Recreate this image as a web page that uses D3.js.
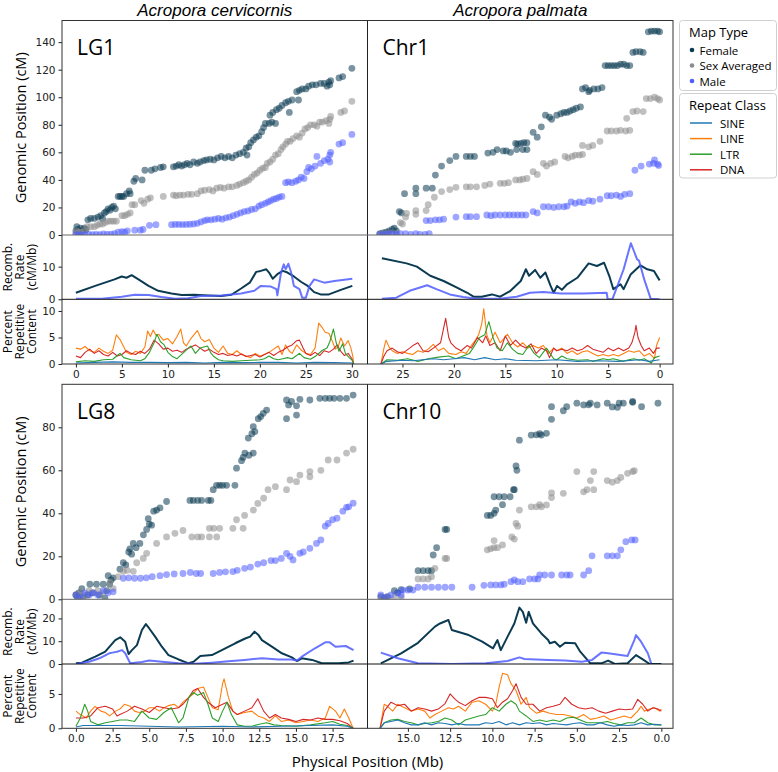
<!DOCTYPE html>
<html><head><meta charset="utf-8">
<script src="https://cdn.jsdelivr.net/npm/d3@7"></script>
<style>body{margin:0;background:#fff}</style>
</head><body><svg id="c" width="778" height="772"></svg>
<script>
// ---------------- DATA ----------------
const columnTitles = ["Acropora cervicornis", "Acropora palmata"];
const panelLabels = ["LG1", "Chr1", "LG8", "Chr10"];
const mapTypes = ["Female", "Sex Averaged", "Male"];
const repeatClasses = ["SINE", "LINE", "LTR", "DNA"];
const xLabel = "Physical Position (Mb)";

const ticksLG1 = [0, 5, 10, 15, 20, 25, 30];
const ticksChr1 = [25, 20, 15, 10, 5, 0];
const ticksLG8 = [0, 2.5, 5, 7.5, 10, 12.5, 15, 17.5];
const ticksChr10 = [15, 12.5, 10, 7.5, 5, 2.5, 0];
const ticksScatterTop = [0, 20, 40, 60, 80, 100, 120, 140];
const ticksScatterBot = [0, 20, 40, 60, 80];
const ticksRecTop = [0, 10];
const ticksRecBot = [0, 10, 20];
const ticksRepTop = [0, 5, 10];
const ticksRepBot = [0, 5];

// Genetic map positions [Mb, cM]
const lg1Female = [[0.0,3],[0.1,6],[0.2,4],[0.3,2],[0.5,5],[0.7,3],[0.9,5],[1.1,4],[1.3,11],[1.6,12],[2.0,12],[2.4,13],[2.7,14],[2.9,12],[3.1,16],[3.3,17],[3.5,19],[3.7,18],[3.9,20],[4.1,21],[4.3,19],[4.6,28],[4.8,28],[5.0,28],[5.2,28],[5.5,30],[5.8,32],[5.9,30],[6.3,39],[6.5,41],[7.2,40],[7.5,47],[8.2,47],[8.6,48],[9.2,49],[9.5,49.5],[10.6,49.5],[10.9,50],[11.2,51],[11.5,50],[11.8,51],[12.1,52],[12.4,51],[12.8,53],[13.2,52],[13.5,53],[13.9,54],[14.2,54.5],[14.6,55],[15.0,54.5],[15.4,56],[15.8,57],[16.2,56],[16.6,57],[17.0,56],[17.4,58],[17.8,59],[18.2,60],[18.5,63],[18.8,64],[18.6,58],[19.0,67],[19.3,69],[19.6,71],[19.9,72],[20.2,75],[20.4,78],[20.6,81],[21.0,81],[21.3,82],[21.7,81],[21.1,87],[21.4,89],[21.8,91],[22.1,92],[22.4,94],[22.8,96],[23.1,97],[23.5,98],[23.2,89],[24.0,104],[24.3,105],[24.6,106],[24.2,98],[25.0,106],[25.3,108],[25.7,109],[26.1,109],[26.6,110],[27.0,110],[27.3,108],[27.5,111],[27.6,109],[27.7,112],[28.6,114],[29.0,115],[30.0,121]];
const lg1Sex = [[0.0,1],[0.1,3],[0.3,2],[0.6,2],[0.9,3],[1.2,6],[1.6,6],[2.0,6],[2.3,7],[2.6,8],[2.9,8],[3.2,9],[3.5,10],[3.8,10],[4.1,10],[4.4,10],[5.0,14],[5.3,14],[5.6,15],[5.9,16],[6.1,22],[6.4,22],[7.1,25],[7.4,23],[7.8,26],[8.1,27],[9.5,28],[10.6,29],[10.9,28.5],[11.3,29],[11.7,29],[12.2,29.5],[12.6,29.5],[13.2,30],[13.6,32],[14.0,32.5],[14.5,33],[14.9,32],[15.3,34],[15.7,34.5],[16.1,34],[16.6,35],[17.0,35],[17.5,36],[17.8,37],[18.2,38],[18.5,39],[18.8,40],[19.1,42],[19.4,44],[19.7,45],[20.0,47],[20.3,48.5],[20.6,49],[20.8,52],[21.1,53],[21.4,55],[21.7,58],[22.0,59],[22.3,62],[22.5,64],[22.8,66],[23.0,68],[23.3,68],[23.6,70],[24.0,72],[24.3,71],[24.6,74],[24.9,77],[25.2,78],[25.5,80],[25.9,80],[26.2,79],[26.5,82],[26.8,82],[27.2,83],[27.6,84],[27.7,86],[27.5,81],[28.8,89],[29.2,90],[30.0,97]];
const lg1Male = [[0.0,0.5],[0.3,0],[0.6,0.3],[1.0,0],[1.4,0.5],[1.8,0.2],[2.2,0.5],[2.6,0.3],[3.0,0.8],[3.4,0.5],[3.8,0.6],[4.2,1],[4.6,2],[5.0,2.5],[5.3,2],[5.6,3],[6.4,3.5],[7.0,3.5],[7.3,4],[8.0,7],[8.7,7.5],[10.4,7.5],[10.8,7.7],[11.2,7.7],[11.6,7.6],[12.0,7.7],[12.4,7.8],[12.8,8],[13.2,8.5],[13.6,9.5],[14.0,10.5],[14.3,11],[14.7,11],[15.1,11.5],[15.5,12],[15.9,11.5],[16.3,12.5],[16.7,13],[17.1,14],[17.5,15],[17.9,16],[18.3,17],[18.7,17.5],[19.1,18.5],[19.5,19],[19.9,21],[20.2,22],[20.6,23],[20.9,24],[21.2,25],[21.5,26],[21.8,26.5],[22.1,27.5],[22.4,28],[22.8,38],[23.1,38.5],[23.5,38],[23.9,39],[24.2,40],[24.5,42],[24.8,41],[25.1,46],[25.3,49],[25.6,48],[26.0,50],[26.2,57],[26.6,52],[27.0,54],[27.4,55],[27.6,58],[27.7,60],[27.6,53],[28.6,66],[29.0,67],[30.0,73]];

const chr1Female = [[27.2,1],[26.9,1.5],[26.6,2],[26.3,3],[26.0,4],[25.8,5],[25.6,3],[25.3,17],[25.1,16],[24.8,30],[23.7,30],[23.7,34],[22.7,34],[22.1,34],[21.8,43.5],[21.2,50],[20.4,54],[19.8,57],[18.8,57],[18.4,57],[18.0,57],[16.7,59.5],[16.2,60],[15.8,62],[15.2,61],[14.9,61],[14.5,60],[14.0,66.5],[13.8,66],[13.5,66.5],[13.2,67],[12.9,67],[13.9,62],[13.3,62],[12.9,62],[12.3,74.5],[11.9,71],[11.5,78.5],[11.1,87],[10.7,85.5],[10.5,84],[10.0,87],[9.6,88],[9.3,89],[9.0,89],[8.7,90],[8.4,91],[8.1,92],[7.7,93],[7.5,106],[7.2,107],[6.9,104],[6.8,105],[6.4,106],[6.0,106],[5.6,107],[5.3,123],[5.0,123],[4.7,123],[4.4,123],[4.1,123],[3.8,124],[3.5,124],[3.2,123],[2.9,123],[2.6,132.5],[2.3,133],[1.9,133],[1.6,132.5],[1.1,147.5],[0.8,148],[0.5,148],[0.2,148],[0.0,147.5]];
const chr1Sex = [[27.2,0.5],[26.8,1],[26.4,1],[26.0,1.5],[25.6,1],[25.2,9],[25.0,8],[24.6,15.7],[24.7,13],[23.7,17.7],[23.7,15],[22.7,17.7],[22.5,22],[21.9,27.4],[21.2,31.5],[20.4,33],[19.8,34.6],[18.8,35],[18.4,35],[17.8,35],[17.0,36],[16.5,37],[15.5,37.5],[15.1,37.5],[14.7,38],[14.0,40],[13.6,40],[13.3,40.5],[12.9,41],[12.3,46],[11.9,44],[11.3,52],[11.0,50],[10.6,52],[10.2,53],[9.2,57],[8.9,56],[8.5,57],[8.2,58],[7.8,58],[7.5,58.5],[7.5,65],[6.9,64],[6.5,65],[5.8,68],[5.1,75.5],[4.7,75.5],[4.2,75.5],[3.8,76],[3.3,75.5],[2.9,76],[3.2,84.7],[2.6,89.6],[2.2,90],[1.6,89.6],[1.3,99],[0.9,99],[0.5,100],[0.2,99],[0.0,98]];
const chr1Male = [[27.2,0.5],[26.8,0.5],[26.4,1],[26.0,1],[25.6,0.5],[25.2,1],[24.7,1],[24.2,0.5],[23.7,1],[23.3,0.5],[22.8,0.5],[22.4,1],[22.7,10.5],[22.3,10.5],[21.8,11],[21.4,11],[21.0,11.5],[19.8,13],[18.8,13.3],[18.4,13.3],[17.8,13.3],[16.8,14.5],[16.4,14],[16.0,14.5],[15.5,14.5],[15.0,14.5],[14.6,14.5],[14.2,14.5],[13.8,14.5],[13.4,14.5],[13.0,14.5],[12.3,17],[11.9,16],[11.3,20.5],[10.8,20.5],[10.3,20],[9.8,20.5],[9.3,20.5],[9.0,21],[8.6,24],[8.2,23],[7.8,24],[7.4,23.5],[6.9,25],[6.5,24.5],[5.8,26],[5.1,28.5],[4.7,28.5],[4.2,29],[3.8,28],[3.4,29.5],[2.9,30],[2.4,47],[1.8,50],[1.0,51.5],[0.6,52],[0.5,54.5],[0.2,51.5],[0.1,50.5]];

const lg8Female = [[0.0,2],[0.1,1],[0.2,3],[0.4,5],[0.5,1],[0.8,2],[0.95,7],[1.1,3],[1.4,7],[1.6,2],[1.86,7],[1.98,0.5],[2.1,4],[2.2,11],[2.3,7],[2.4,9],[2.54,10],[3.0,14],[3.23,17],[3.4,16],[3.6,22],[3.68,23.5],[3.8,21],[3.91,26],[4.1,24],[4.36,26],[4.6,30],[4.82,32.5],[4.93,37.5],[5.0,35],[5.16,34.5],[5.3,41],[5.5,41.5],[5.73,42.5],[6.18,45.5],[7.77,46],[8.0,46],[8.3,46],[8.57,46],[9.02,46],[9.36,51],[9.2,46],[9.59,53],[9.8,53],[10.0,53],[10.27,53],[10.84,53],[10.95,61],[11.29,64.5],[11.4,66],[11.52,68],[11.8,67],[12.09,68],[11.75,75],[12.0,77],[12.2,78],[12.09,80.3],[12.43,84],[12.6,85],[12.77,86.5],[13.0,88],[14.36,84],[14.36,92.7],[14.5,90.4],[14.7,92],[15.04,85.7],[15.04,90],[15.27,93],[15.95,92.7],[16.63,93.5],[17.0,93.5],[17.3,93.5],[17.6,93.5],[18.0,93.5],[18.45,93.5],[18.9,95]];
const lg8Sex = [[0.0,2],[0.3,3],[0.6,2],[0.9,4],[1.2,3],[1.5,4],[1.86,3],[2.32,8],[2.54,5],[2.88,10.5],[3.23,13],[3.5,13.5],[3.91,13],[4.14,17],[4.59,19],[4.82,21.4],[5.5,26],[6.18,29],[6.75,30.7],[7.3,32],[7.9,29],[8.3,29],[8.57,29],[9.1,29],[9.6,29],[9.1,33],[9.4,33],[9.8,33],[10.7,33],[11.4,33],[10.95,37],[11.5,39],[12.1,41.5],[12.4,44.6],[12.8,47],[13.1,51],[13.6,52.4],[14.36,51],[14.6,55.5],[15.04,54.7],[15.27,57.8],[15.95,57],[15.95,59.4],[16.7,60],[17.2,64.8],[17.8,64.8],[18.45,68],[18.9,69.8]];
const lg8Male = [[0.0,2],[0.3,1],[0.6,3],[0.9,2],[1.2,3],[1.5,2],[1.86,4],[2.2,3],[2.54,3.5],[3.23,9.8],[3.6,10],[4.0,9.8],[4.4,9.8],[4.8,10],[5.2,10.5],[5.73,11],[6.18,11.5],[6.7,11.8],[7.3,12],[7.8,12.5],[8.2,12],[8.5,12],[9.36,12],[9.8,12.5],[10.2,12.8],[10.7,12.9],[11.0,13.5],[11.5,14.4],[11.9,15],[12.4,16.4],[12.8,17],[13.3,18],[13.6,18],[14.0,19],[14.36,21.4],[14.6,20],[14.8,18.3],[15.27,21.4],[15.5,22],[15.95,23.7],[16.4,26],[16.7,27.6],[17.0,34],[17.2,35.3],[17.5,37],[17.8,37.7],[18.2,41],[18.45,42.8],[18.6,43],[18.9,44.7]];

const chr10Female = [[16.6,1.2],[16.4,0.5],[16.2,1.2],[15.8,4],[15.6,3],[15.4,4.5],[14.9,4.8],[14.4,13.3],[14.1,13.3],[13.8,13.3],[13.6,13.3],[13.5,20.6],[13.3,24],[12.8,32.5],[12.7,32.5],[10.3,39],[10.1,39],[9.9,40],[9.8,41.5],[9.4,44],[9.9,47.7],[9.6,47.7],[9.3,47.7],[8.95,47.7],[8.75,51],[8.7,51],[8.6,62],[8.55,60],[8.4,74],[7.7,76.4],[7.4,76.5],[7.2,77],[7.1,76.4],[6.8,77.2],[6.5,83.7],[6.5,89.6],[5.8,87.7],[5.6,89.6],[5.0,91.2],[4.6,90.4],[4.3,90.5],[4.2,91.2],[3.8,90.4],[3.2,91.2],[2.9,89.5],[2.6,89.3],[2.5,91.2],[2.25,91.2],[1.7,91.6],[1.7,92],[1.17,89.6],[0.2,91.2]];
const chr10Sex = [[16.6,1],[16.2,1],[15.8,1],[15.4,1],[14.4,9.5],[14.1,9.5],[13.8,9.5],[13.6,10.5],[13.4,14.4],[12.8,19],[12.7,19],[10.3,23],[10.1,23.5],[9.9,24],[9.7,24],[9.9,27.3],[9.4,25.3],[8.85,29],[8.7,28],[8.6,35.3],[8.5,34],[8.4,41.5],[7.7,43],[7.4,43],[7.2,44],[7.1,43],[6.8,43.9],[6.5,47.3],[6.5,49.5],[5.8,49.3],[5.0,59.4],[4.6,50],[4.4,51],[4.2,55.2],[4.0,59.4],[4.0,51],[3.2,55.2],[2.9,54.5],[2.6,55.2],[2.4,56.7],[2.0,58.6],[1.7,59.4],[1.6,59.8]];
const chr10Male = [[16.6,2],[16.3,1],[16.0,2],[15.6,3],[15.4,2],[15.3,4.3],[15.0,4.3],[14.7,4.3],[14.4,5.6],[14.0,5.6],[13.6,5.6],[13.2,5.6],[12.8,5.6],[12.4,5.6],[11.2,5.6],[10.5,6.5],[10.1,6.7],[9.8,6.7],[9.5,6.7],[9.3,7],[8.9,8.2],[8.7,9],[8.5,8.2],[8.2,8.2],[7.8,9.5],[7.5,9.5],[7.3,9.5],[7.2,11.3],[6.9,11.3],[6.5,11.3],[5.9,11.3],[5.6,11.3],[5.4,11.3],[4.6,11.3],[4.3,13.3],[4.1,20.2],[3.2,20.2],[2.9,20.2],[2.6,20.2],[2.4,23],[2.1,26.8],[1.75,27.6],[1.55,27.6]];

// Recombination rate [Mb, cM/Mb]
const lg1RecFemale = [[0,2.0],[2.1,4.1],[4.2,6.1],[4.98,7.0],[5.5,6.6],[6.06,7.4],[6.8,6.1],[7.9,4.1],[8.95,2.6],[10.4,1.8],[11.5,1.3],[12.9,1.4],[14.4,1.2],[15.8,1.0],[16.9,1.4],[17.96,3.3],[18.9,5.1],[19.6,8.4],[20.1,8.7],[20.7,9.2],[21.0,8.2],[21.4,6.3],[21.9,7.7],[22.5,8.7],[23.0,8.2],[23.7,7.0],[24.5,5.3],[25.2,4.1],[25.9,2.2],[26.6,1.5],[27.5,1.5],[28.8,2.9],[30.05,4.1]];
const lg1RecMale = [[0,0.2],[2.8,0.2],[5,0.8],[6.4,1.4],[7.9,1.3],[9.3,0.7],[10.8,0.2],[12.2,0.3],[13.6,1.0],[15.8,1.2],[17.96,1.8],[19.4,2.6],[20.1,4.1],[21.2,3.9],[21.8,3.1],[21.9,1.2],[22.3,8.2],[22.6,10.7],[22.8,9.2],[23.1,10.9],[23.4,8.2],[23.7,4.1],[24.3,3.1],[24.6,0.5],[25.0,0.5],[25.4,4.1],[25.9,6.1],[27.0,5.1],[28.1,5.6],[30.05,6.3]];
const chr1RecFemale = [[27.0,12.6],[24.6,11.0],[23.6,10.0],[22.3,7.2],[21.0,5.6],[19.7,3.6],[18.7,2.0],[18.1,0.8],[17.3,0.8],[16.3,1.5],[15.5,0.8],[14.5,2.6],[13.5,5.6],[13.0,9.2],[12.7,7.2],[12.1,9.0],[11.6,6.6],[11.1,8.2],[10.6,4.1],[10.3,2.0],[9.97,4.1],[9.5,2.9],[9.0,4.6],[8.0,6.6],[6.9,11.0],[6.1,10.2],[5.4,11.2],[4.9,7.2],[4.5,3.1],[3.8,4.6],[3.5,3.1],[2.8,7.7],[1.86,10.4],[1.2,9.2],[0.55,8.7],[0.0,5.8]];
const chr1RecMale = [[27.0,0.2],[25.6,0.5],[24.3,2.6],[22.6,4.3],[21.7,3.1],[20.4,1.5],[19.1,0.7],[17.8,0.2],[15.5,0.2],[13.9,0.8],[12.6,2.0],[11.3,2.2],[9.6,1.8],[7.4,1.8],[5.15,2.0],[5.05,0],[4.6,0],[4.1,4.1],[3.5,9.2],[2.8,17.2],[2.5,14.8],[2.2,12.3],[2.0,11.8],[1.5,6.1],[0.87,0.2],[0.0,0]];
const lg8RecFemale = [[0,0.3],[0.41,0.6],[1.32,3.2],[2.0,5.4],[2.68,10.5],[3.02,11.7],[3.36,9.8],[3.59,4.4],[3.82,6.1],[4.16,8.3],[4.5,14.9],[4.77,17.5],[5.0,15.6],[5.4,12.0],[5.86,7.6],[6.31,3.9],[7.0,2.0],[7.68,0.3],[8.02,1.0],[8.48,3.5],[9.27,3.9],[9.95,6.1],[10.86,9.1],[11.54,11.2],[11.88,12.0],[12.18,14.2],[12.45,12.7],[12.68,10.5],[13.36,7.6],[14.04,4.7],[14.72,2.9],[15.07,1.3],[15.4,2.5],[16.1,1.8],[16.77,0.3],[17.9,0.3],[18.6,0.7],[18.93,1.5]];
const lg8RecMale = [[0,0],[0.9,1.0],[1.6,2.5],[2.27,4.7],[2.5,5.0],[2.8,5.4],[3.14,6.1],[3.36,4.7],[3.7,0.3],[4.5,0.9],[5.0,1.5],[5.86,1.0],[7.0,0.3],[8.1,0.1],[9.27,0.6],[10.4,1.2],[11.5,1.8],[12.7,2.5],[13.8,2.0],[14.7,2.0],[15.07,1.5],[15.4,3.2],[16.3,6.9],[17.0,9.5],[17.3,9.5],[17.7,7.6],[18.4,7.9],[18.93,6.1]];
const chr10RecFemale = [[16.6,0.3],[15.4,4.7],[14.4,9.3],[13.4,16.4],[13.1,17.8],[12.6,19.3],[12.4,14.9],[11.4,12.7],[10.6,9.8],[9.96,6.9],[9.7,10.5],[9.5,6.1],[9.1,12.0],[8.7,17.8],[8.4,24.8],[8.2,22.9],[8.0,18.1],[7.85,22.9],[7.6,17.8],[7.1,13.4],[6.7,10.5],[6.6,9.1],[6.3,9.8],[6.0,7.6],[5.7,9.3],[5.1,9.1],[4.8,5.4],[4.2,0.3],[3.55,0.3],[3.15,1.5],[2.75,0],[2.0,0.3],[1.5,3.9],[1.1,2.0],[0.69,0],[0,0]];
const chr10RecMale = [[16.6,5.0],[15.6,2.5],[14.4,0.3],[12.4,0],[10.4,0.3],[9.1,1.3],[8.4,2.9],[8.1,2.2],[6.7,1.8],[5.7,1.5],[4.7,1.0],[4.1,1.8],[3.55,5.0],[3.15,4.7],[2.0,3.5],[1.6,10.5],[1.5,12.7],[1.2,9.8],[0.8,4.7],[0.6,0.3]];

// Percent repetitive content [Mb, %]
const lg1Sine = [[0,0.2],[2,0.3],[4,0.4],[6,0.3],[8,0.3],[10,0.25],[12,0.3],[14,0.2],[16,0.3],[18,0.25],[20,0.3],[22,0.3],[24,0.2],[26,0.3],[28,0.25],[30,0.2],[30.2,0]];
const lg1Line = [[0,3.0],[0.5,2.8],[1,3.3],[1.5,2.5],[2,2.2],[2.5,3.0],[3,2.4],[3.5,2.0],[4,2.6],[4.4,5.5],[4.8,4.6],[5.1,3.6],[5.5,2.2],[6,1.8],[6.5,2.4],[7,2.0],[7.5,3.2],[7.8,6.2],[8.1,5.2],[8.4,6.4],[8.7,5.4],[9,5.6],[9.5,4.5],[10,4.8],[10.5,3.8],[11,5.2],[11.4,6.6],[11.7,4.0],[12,3.4],[12.5,4.8],[13.2,6.3],[13.6,4.8],[14,4.2],[14.5,4.6],[15,3.0],[15.5,2.2],[16,3.4],[16.5,2.0],[17,1.8],[17.5,2.5],[18,1.8],[18.5,1.5],[19,1.2],[19.5,2.0],[20,1.5],[20.5,1.8],[21,2.2],[21.5,2.8],[22,3.4],[22.4,1.8],[22.8,3.6],[23.2,2.4],[23.5,2.0],[24,3.6],[24.5,2.6],[25,2.0],[25.5,1.8],[26,3.0],[26.4,7.7],[26.8,6.8],[27.1,6.0],[27.5,5.8],[27.9,4.2],[28.2,2.8],[28.5,3.2],[28.8,4.9],[29.2,3.4],[29.6,4.4],[29.9,3.0],[30.1,1.5],[30.2,0]];
const lg1Ltr = [[0,0.4],[1,0.6],[2,0.5],[3,0.8],[4,0.9],[4.5,1.6],[4.8,2.0],[5.2,1.2],[6,0.8],[7,0.6],[7.5,1.0],[8,2.2],[8.5,4.0],[8.8,5.6],[9.2,4.2],[9.6,3.6],[10,2.2],[10.5,1.4],[11,1.0],[11.5,1.8],[12,2.6],[12.5,3.4],[13,2.0],[13.5,3.0],[14.3,3.4],[14.7,2.0],[15,1.4],[15.5,0.8],[16,0.6],[17,0.5],[18,0.6],[19,0.7],[20,0.8],[20.5,1.0],[21,1.5],[21.5,1.0],[22,0.8],[22.5,1.0],[23,1.2],[23.5,1.0],[24,1.6],[24.3,2.0],[24.8,1.2],[25.5,0.9],[26,1.4],[26.8,2.6],[27.3,3.0],[27.6,4.2],[28,6.6],[28.3,4.0],[28.6,2.4],[29,3.8],[29.3,2.0],[29.7,1.2],[30,0.8],[30.2,0]];
const lg1Dna = [[0,1.5],[0.5,1.2],[1,2.2],[1.5,2.8],[2,2.0],[2.5,2.5],[3,1.8],[3.5,1.5],[4,2.2],[4.5,1.5],[5,1.8],[5.5,2.5],[6,2.0],[6.5,1.8],[7,2.4],[7.5,2.0],[8,2.8],[8.5,4.5],[9,3.8],[9.5,2.8],[10,3.0],[10.5,2.4],[11,2.6],[11.5,2.2],[12,2.8],[12.5,3.2],[13,3.6],[13.5,3.0],[14,2.4],[14.5,2.8],[15,2.2],[15.5,1.8],[16,2.0],[16.5,1.6],[17,1.8],[17.5,1.5],[18,1.9],[18.5,1.4],[19,1.6],[19.5,1.8],[20,1.3],[20.5,1.8],[21,2.2],[21.5,1.6],[22,2.2],[22.5,2.6],[23,3.2],[23.5,3.6],[24,4.4],[24.3,4.5],[24.7,3.0],[25,2.0],[25.5,1.6],[26,2.2],[26.5,1.6],[27,2.5],[27.5,2.2],[28,2.8],[28.4,3.6],[28.8,2.4],[29.2,1.6],[29.6,2.0],[30,1.0],[30.2,0]];

const chr1Sine = [[27.1,0],[26.5,0.5],[25,0.7],[24,0.6],[22,1.0],[21,0.8],[20,1.0],[19,1.2],[18,0.8],[17,1.2],[16,0.8],[15,1.0],[14,0.7],[12,0.6],[10,0.8],[8,0.5],[6,0.6],[4,0.5],[2,0.8],[1,0.5],[0,0.8]];
const chr1Line = [[27.1,0],[26.8,3.0],[26.6,4.5],[26.3,3.2],[26.0,2.5],[25.5,2.0],[25.0,2.3],[24.5,2.0],[24.0,1.8],[23.5,2.5],[23.0,2.2],[22.5,2.8],[22.0,3.7],[21.5,2.5],[21.0,3.0],[20.5,2.0],[19.8,1.8],[19.3,2.3],[18.8,2.0],[18.3,3.5],[17.9,4.5],[17.6,5.5],[17.3,7.5],[17.1,10.4],[16.8,5.5],[16.5,4.0],[16.0,6.0],[15.5,4.0],[14.8,5.6],[14.3,4.0],[13.8,3.2],[13.3,4.0],[12.8,3.0],[12.3,3.5],[11.8,3.0],[11.3,3.5],[10.8,2.0],[10.3,3.0],[10.0,2.5],[9.5,3.0],[9.0,2.0],[8.5,2.5],[8.0,1.8],[7.5,2.3],[7.0,2.5],[6.5,2.0],[6.0,1.5],[5.5,1.8],[5.0,1.5],[4.5,1.8],[4.0,1.5],[3.5,2.0],[3.0,2.5],[2.5,2.2],[2.0,2.5],[1.5,1.5],[1.0,2.0],[0.5,1.0],[0.3,3.5],[0,5.0]];
const chr1Ltr = [[27.1,0],[26.5,0.8],[25.5,0.7],[24.5,1.0],[23.5,0.5],[22.5,1.0],[21.5,1.3],[20.5,1.5],[19.8,1.0],[18.5,2.0],[18.2,2.8],[17.5,5.0],[17.0,5.5],[16.6,8.0],[16.2,5.0],[15.8,3.0],[15.3,2.5],[14.8,4.0],[14.3,2.8],[13.8,2.0],[13.3,1.8],[12.7,3.5],[12.2,2.0],[11.7,1.2],[11.0,3.0],[10.3,1.0],[10.0,0.8],[9.5,1.5],[9.0,1.0],[8.0,0.7],[7.0,0.8],[6.5,0.5],[5.5,1.0],[5.0,0.8],[4.5,1.0],[3.5,0.5],[3.0,0.8],[2.5,1.0],[2.0,0.7],[1.5,1.0],[0.8,0.2],[0.5,1.2],[0,1.5]];
const chr1Dna = [[27.1,0],[26.8,1.5],[26.5,2.5],[26.0,3.0],[25.5,2.3],[25.0,2.0],[24.3,3.0],[23.9,3.6],[23.5,4.0],[23.0,2.5],[22.5,2.3],[22.0,3.0],[21.3,4.0],[20.8,8.6],[20.5,5.0],[20.3,4.0],[19.8,3.0],[19.3,2.5],[18.7,3.5],[18.3,3.0],[17.7,5.0],[17.2,4.0],[16.9,5.3],[16.5,3.5],[16.0,4.0],[15.5,2.5],[15.0,5.3],[14.5,3.5],[14.0,4.5],[13.5,3.5],[13.0,3.0],[12.5,3.8],[12.0,2.0],[11.5,3.0],[11.0,2.5],[10.7,1.2],[10.3,3.0],[10.0,2.5],[9.5,2.8],[9.0,2.5],[8.5,3.0],[8.0,2.5],[7.5,2.8],[7.0,3.5],[6.5,2.8],[6.0,2.5],[5.5,2.2],[5.0,3.0],[4.5,2.5],[4.0,3.0],[3.5,2.5],[3.0,3.0],[2.7,4.0],[2.4,6.0],[2.3,7.3],[2.1,5.0],[1.8,3.5],[1.5,2.5],[1.0,3.0],[0.6,2.0],[0.3,3.0],[0,3.0]];

const lg8Sine = [[0,0.2],[0.5,0.4],[3,0.4],[5,0.3],[7,0.2],[10,0.3],[12,0.2],[14,0.3],[16,0.4],[17.5,0.5],[18.5,0.3],[18.9,0]];
const lg8Line = [[0,2.5],[0.3,2.0],[0.7,1.5],[1,2.5],[1.3,3.2],[1.7,2.5],[2,2.3],[2.3,1.8],[2.7,2.5],[3,2.8],[3.3,3.5],[3.7,3.2],[4,2.5],[4.3,2.3],[4.7,2.5],[5,3.0],[5.3,3.0],[5.7,2.5],[6,3.0],[6.3,3.3],[6.7,3.5],[7,3.0],[7.3,3.8],[7.7,4.5],[8,5.0],[8.3,5.8],[8.7,6.0],[9,4.5],[9.3,3.0],[9.7,2.7],[10,6.5],[10.1,7.2],[10.4,4.5],[10.7,2.5],[11,2.0],[11.5,2.3],[12,2.5],[12.4,1.8],[12.8,1.5],[13.2,1.0],[13.6,1.8],[14,1.0],[14.5,1.2],[15,0.8],[15.5,1.0],[16,1.2],[16.5,1.0],[17,1.5],[17.3,3.2],[17.7,2.5],[18,1.5],[18.3,2.8],[18.6,1.5],[18.9,0]];
const lg8Ltr = [[0,0.3],[0.3,1.5],[0.6,3.5],[0.8,2.5],[1,1.0],[1.5,0.5],[2,0.8],[2.5,1.0],[3,1.2],[3.5,1.2],[4,1.0],[4.5,2.5],[5,1.5],[5.5,1.3],[6,2.3],[6.5,3.0],[7,0.8],[7.3,1.5],[7.7,4.5],[8,5.2],[8.3,4.8],[8.7,5.2],[9,3.5],[9.3,1.5],[9.7,1.0],[10,2.5],[10.3,3.8],[10.6,2.0],[11,0.5],[11.5,0.3],[12,0.3],[12.5,0.6],[13,0.8],[13.5,0.5],[14,0.4],[15,0.3],[16,0.5],[17,0.8],[17.5,1.0],[18,0.6],[18.5,0.4],[18.9,0]];
const lg8Dna = [[0,1.5],[0.5,1.5],[1,1.8],[1.5,3.0],[2,3.2],[2.5,2.8],[2.8,1.8],[3,2.0],[3.5,2.5],[4,3.2],[4.5,2.8],[5,2.3],[5.5,3.2],[6,3.0],[6.5,2.8],[7,3.0],[7.3,3.5],[7.7,4.5],[8,5.5],[8.3,5.8],[8.7,4.5],[9,3.8],[9.5,3.0],[10,3.5],[10.3,3.8],[10.7,2.5],[11,2.0],[11.5,2.5],[12,3.0],[12.4,4.3],[12.8,2.5],[13.2,1.5],[13.6,2.0],[14,1.5],[14.5,1.3],[15,1.0],[15.5,1.3],[16,1.2],[16.5,1.5],[17,1.3],[17.5,1.3],[18,1.1],[18.5,0.7],[18.9,0]];

const chr10Sine = [[16.65,0],[16.4,0.8],[16.0,1.0],[15.6,1.2],[15.2,0.8],[14.8,0.5],[14.4,0.5],[14.0,0.8],[13.6,0.5],[13.2,0.8],[12.8,0.7],[12.4,0.5],[12.0,0.7],[11.6,0.5],[11.2,0.5],[10.8,0.5],[10.4,0.8],[10.0,0.7],[9.6,1.0],[9.2,0.5],[8.8,0.8],[8.4,0.5],[8.0,0.8],[7.6,0.7],[7.2,0.8],[6.8,0.5],[6.4,0.7],[6.0,0.6],[5.6,0.5],[5.2,0.7],[4.8,0.8],[4.4,0.5],[4.0,0.5],[3.6,0.8],[3.2,0.5],[2.8,0.3],[2.4,0.5],[2.0,0.4],[1.6,0.5],[1.2,0.8],[0.8,0.5],[0.4,0.6],[0,0.5]];
const chr10Line = [[16.65,0],[16.4,3.5],[16.2,3.2],[15.9,2.5],[15.6,3.5],[15.2,3.0],[14.8,2.5],[14.4,2.8],[14.0,2.5],[13.7,1.5],[13.4,2.0],[13.0,2.5],[12.6,3.0],[12.3,2.8],[12.0,3.2],[11.6,2.5],[11.2,3.8],[10.8,4.0],[10.4,3.5],[10.0,2.5],[9.8,3.5],[9.6,6.0],[9.4,8.0],[9.1,7.8],[8.9,6.5],[8.6,5.5],[8.3,3.5],[8.0,4.5],[7.8,3.0],[7.4,2.2],[7.0,2.5],[6.6,2.2],[6.2,2.0],[5.8,2.0],[5.4,1.8],[5.0,1.5],[4.6,2.0],[4.2,1.3],[3.8,1.5],[3.4,1.8],[3.0,1.2],[2.6,1.5],[2.2,1.8],[1.8,1.5],[1.4,2.5],[1.2,3.2],[1.0,2.5],[0.7,2.8],[0.4,3.0],[0.1,2.5],[0,2.8]];
const chr10Ltr = [[16.65,0],[16.4,0.8],[16.0,1.2],[15.6,1.3],[15.2,1.0],[14.8,0.8],[14.4,0.5],[14.0,0.7],[13.6,0.8],[13.2,1.0],[12.8,1.5],[12.4,1.2],[12.0,0.5],[11.6,1.2],[11.2,1.5],[10.8,1.8],[10.4,2.0],[10.0,3.0],[9.6,2.5],[9.2,3.5],[8.9,4.0],[8.6,3.5],[8.4,2.5],[8.0,1.8],[7.6,1.0],[7.2,1.2],[6.8,1.0],[6.4,1.2],[6.0,1.0],[5.6,1.5],[5.2,1.6],[4.8,1.2],[4.4,0.8],[4.0,0.8],[3.6,0.8],[3.2,1.0],[2.8,0.7],[2.4,0.5],[2.0,0.8],[1.6,0.8],[1.2,1.5],[0.8,0.8],[0.4,0.5],[0,0.5]];
const chr10Dna = [[16.65,0],[16.4,2.5],[16.0,3.8],[15.6,3.3],[15.2,3.5],[14.8,2.5],[14.4,3.0],[14.0,2.8],[13.6,2.5],[13.2,2.8],[12.8,3.6],[12.5,5.0],[12.2,4.2],[12.0,3.8],[11.6,3.3],[11.2,4.0],[10.8,4.5],[10.4,4.5],[10.0,4.3],[9.7,3.0],[9.4,3.8],[9.1,4.3],[8.8,5.5],[8.6,6.5],[8.3,4.5],[8.0,3.5],[7.6,3.5],[7.2,2.5],[6.8,3.0],[6.4,3.2],[6.0,3.5],[5.7,4.5],[5.3,3.5],[4.9,3.0],[4.5,2.8],[4.1,3.0],[3.7,2.5],[3.3,2.2],[2.9,2.5],[2.5,2.8],[2.1,2.7],[1.7,2.8],[1.4,4.2],[1.1,3.5],[0.8,2.5],[0.5,3.0],[0.2,2.8],[0,2.5]];

// ---------------- DRAWING ----------------
const svg = d3.select('#c');
const FONT = "'Open Sans', 'DejaVu Sans', sans-serif";
const TICKFONT = "'DejaVu Sans', sans-serif";
const colMap = {Female: '#0b3b52', 'Sex Averaged': '#8c8c8c', Male: '#4f5cff'};
const colRep = {SINE: '#1f77b4', LINE: '#ff7f0e', LTR: '#2ca02c', DNA: '#d62728'};

const colsX = [[62, 367.5], [367.5, 673]];
const blocks = [
  {top: 20.5, s1: 235, s2: 299.3, bot: 364, yS: 155.7, yR: 19.7, yP: 12.2,
   tS: ticksScatterTop, tR: ticksRecTop, tP: ticksRepTop},
  {top: 384.3, s1: 599.3, s2: 664, bot: 728.3, yS: 100, yR: 28.4, yP: 9.36,
   tS: ticksScatterBot, tR: ticksRecBot, tP: ticksRepBot}
];

const panels = [
  {b: 0, c: 0, label: panelLabels[0], dom: [-1.51, 31.7], ticks: ticksLG1, fmt: d3.format('d'),
   sc: [lg1Female, lg1Sex, lg1Male], rec: [lg1RecFemale, lg1RecMale], rep: [lg1Sine, lg1Line, lg1Ltr, lg1Dna]},
  {b: 0, c: 1, label: panelLabels[1], dom: [28.4, -1.3], ticks: ticksChr1, fmt: d3.format('d'),
   sc: [chr1Female, chr1Sex, chr1Male], rec: [chr1RecFemale, chr1RecMale], rep: [chr1Sine, chr1Line, chr1Ltr, chr1Dna]},
  {b: 1, c: 0, label: panelLabels[2], dom: [-0.95, 19.88], ticks: ticksLG8, fmt: d3.format('.1f'),
   sc: [lg8Female, lg8Sex, lg8Male], rec: [lg8RecFemale, lg8RecMale], rep: [lg8Sine, lg8Line, lg8Ltr, lg8Dna]},
  {b: 1, c: 1, label: panelLabels[3], dom: [17.39, -0.69], ticks: ticksChr10, fmt: d3.format('.1f'),
   sc: [chr10Female, chr10Sex, chr10Male], rec: [chr10RecFemale, chr10RecMale], rep: [chr10Sine, chr10Line, chr10Ltr, chr10Dna]}
];

const defs = svg.append('defs');

panels.forEach((p, i) => {
  const B = blocks[p.b];
  const [xa, xb] = colsX[p.c];
  const x = d3.scaleLinear().domain(p.dom).range([xa, xb]);
  const yS = d3.scaleLinear().domain([0, B.yS]).range([B.s1, B.top]);
  const yR = d3.scaleLinear().domain([0, B.yR]).range([B.s2, B.s1]);
  const yP = d3.scaleLinear().domain([0, B.yP]).range([B.bot, B.s2]);

  const clipS = 'cs' + i, clipR = 'cr' + i, clipP = 'cp' + i;
  defs.append('clipPath').attr('id', clipS).append('rect').attr('x', xa).attr('y', B.top).attr('width', xb - xa).attr('height', B.s1 - B.top);
  defs.append('clipPath').attr('id', clipR).append('rect').attr('x', xa).attr('y', B.s1).attr('width', xb - xa).attr('height', B.s2 - B.s1);
  defs.append('clipPath').attr('id', clipP).append('rect').attr('x', xa).attr('y', B.s2).attr('width', xb - xa).attr('height', B.bot - B.s2);

  // scatter
  const gS = svg.append('g').attr('clip-path', `url(#${clipS})`);
  p.sc.forEach((arr, k) => {
    gS.append('g').selectAll('circle').data(arr).join('circle')
      .attr('cx', d => x(d[0])).attr('cy', d => yS(d[1])).attr('r', 3.4)
      .attr('fill', colMap[mapTypes[k]]).attr('fill-opacity', 0.55);
  });

  // recomb
  const gR = svg.append('g').attr('clip-path', `url(#${clipR})`);
  const lineR = d3.line().x(d => x(d[0])).y(d => yR(d[1]));
  const recCols = [colMap.Female, colMap.Male];
  [0, 1].forEach(k => {
    const data = d3.sort(p.rec[k], d => d[0]);
    gR.append('path').attr('d', lineR(data)).attr('fill', 'none')
      .attr('stroke', recCols[k]).attr('stroke-width', 2).attr('stroke-opacity', k === 1 ? 0.85 : 1)
      .attr('stroke-linejoin', 'round');
  });

  // repetitive
  const gP = svg.append('g').attr('clip-path', `url(#${clipP})`);
  const lineP = d3.line().x(d => x(d[0])).y(d => yP(d[1]));
  [1, 3, 2, 0].forEach(k => {
    const data = d3.sort(p.rep[k], d => d[0]);
    gP.append('path').attr('d', lineP(data)).attr('fill', 'none')
      .attr('stroke', colRep[repeatClasses[k]]).attr('stroke-width', 1.1).attr('stroke-linejoin', 'round');
  });

  // panel label
  svg.append('text').attr('x', xa + 15).attr('y', B.top + 34.5).text(p.label)
    .attr('font-family', FONT).attr('font-size', 21).attr('fill', '#000');

  // x axis
  const gx = svg.append('g').attr('transform', `translate(0,${B.bot})`)
    .call(d3.axisBottom(x).tickValues(p.ticks).tickFormat(p.fmt).tickSize(3.5).tickPadding(3));
  gx.select('.domain').remove();
  gx.selectAll('text').attr('font-family', TICKFONT).attr('font-size', 10.5).attr('fill', '#222');
  gx.selectAll('line').attr('stroke', '#222');

  // y axes (left column only)
  if (p.c === 0) {
    [[yS, B.tS], [yR, B.tR], [yP, B.tP]].forEach(([sc, tv]) => {
      const gy = svg.append('g').attr('transform', `translate(${xa},0)`)
        .call(d3.axisLeft(sc).tickValues(tv).tickSize(3.5).tickPadding(3));
      gy.select('.domain').remove();
      gy.selectAll('text').attr('font-family', TICKFONT).attr('font-size', 10.5).attr('fill', '#222');
      gy.selectAll('line').attr('stroke', '#222');
    });
  }
});

// frames
blocks.forEach(B => {
  svg.append('rect').attr('x', 62).attr('y', B.top).attr('width', 611).attr('height', B.bot - B.top)
    .attr('fill', 'none').attr('stroke', '#333').attr('stroke-width', 1);
  svg.append('line').attr('x1', 367.5).attr('x2', 367.5).attr('y1', B.top).attr('y2', B.bot).attr('stroke', '#222');
  svg.append('line').attr('x1', 62).attr('x2', 673).attr('y1', B.s1).attr('y2', B.s1).attr('stroke', '#666');
  svg.append('line').attr('x1', 62).attr('x2', 673).attr('y1', B.s2).attr('y2', B.s2).attr('stroke', '#111');

  // y labels
  svg.append('text').attr('transform', `translate(20,${(B.top + B.s1) / 2}) rotate(-90)`)
    .attr('text-anchor', 'middle').attr('dominant-baseline', 'central')
    .attr('font-family', FONT).attr('font-size', 14.5).text('Genomic Position (cM)');
  const multi = (lines, cy) => {
    const g = svg.append('g').attr('transform', `translate(19.5,${cy}) rotate(-90)`);
    lines.forEach((t, j) => g.append('text').attr('x', 0).attr('y', (j - 1) * 11.8)
      .attr('text-anchor', 'middle').attr('dominant-baseline', 'central')
      .attr('font-family', FONT).attr('font-size', 12).text(t));
  };
  multi(['Recomb.', 'Rate', '(cM/Mb)'], (B.s1 + B.s2) / 2);
  multi(['Percent', 'Repetitive', 'Content'], (B.s2 + B.bot) / 2);
});

// column titles
columnTitles.forEach((t, c) => {
  svg.append('text').attr('x', (colsX[c][0] + colsX[c][1]) / 2).attr('y', 15.5)
    .attr('text-anchor', 'middle').attr('font-family', "'Liberation Sans', Arial, sans-serif").attr('font-style', 'italic')
    .attr('font-size', 17).text(t);
});

// x label
svg.append('text').attr('x', 367.5).attr('y', 767).attr('text-anchor', 'middle')
  .attr('font-family', FONT).attr('font-size', 15).text(xLabel);

// legends
const lg1 = svg.append('g');
lg1.append('rect').attr('x', 679.5).attr('y', 20.5).attr('width', 97).attr('height', 70).attr('rx', 3)
  .attr('fill', '#fff').attr('stroke', '#d0d0d0');
lg1.append('text').attr('x', 689).attr('y', 37).attr('font-family', FONT).attr('font-size', 13).text('Map Type');
mapTypes.forEach((m, j) => {
  const cy = 50 + j * 15.5;
  lg1.append('circle').attr('cx', 692).attr('cy', cy).attr('r', 2.3).attr('fill', colMap[m]);
  lg1.append('text').attr('x', 699.5).attr('y', cy).attr('dominant-baseline', 'central')
    .attr('font-family', FONT).attr('font-size', 11.5).text(m);
});
const lg2 = svg.append('g');
lg2.append('rect').attr('x', 679.5).attr('y', 93.5).attr('width', 97).attr('height', 84.5).attr('rx', 3)
  .attr('fill', '#fff').attr('stroke', '#d0d0d0');
lg2.append('text').attr('x', 689).attr('y', 110).attr('font-family', FONT).attr('font-size', 13).text('Repeat Class');
repeatClasses.forEach((r, j) => {
  const cy = 123 + j * 15.6;
  lg2.append('line').attr('x1', 690).attr('x2', 712).attr('y1', cy).attr('y2', cy)
    .attr('stroke', colRep[r]).attr('stroke-width', 1.5);
  lg2.append('text').attr('x', 720).attr('y', cy).attr('dominant-baseline', 'central')
    .attr('font-family', FONT).attr('font-size', 11.5).text(r);
});
</script></body></html>
